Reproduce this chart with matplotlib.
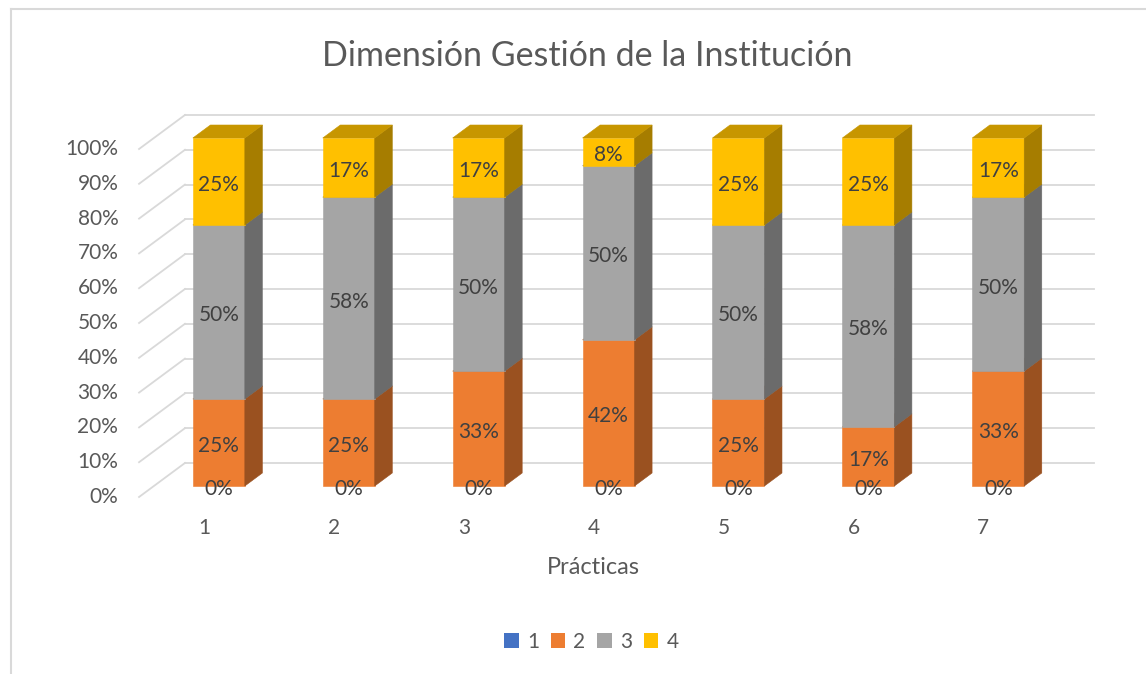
import matplotlib
matplotlib.use('Agg')
import matplotlib.pyplot as plt
from matplotlib.patches import Patch
from matplotlib.lines import Line2D
import numpy as np

plt.rcParams['font.family'] = ['Lato', 'DejaVu Sans']

# data
practicas = ['1', '2', '3', '4', '5', '6', '7']
series_names = ['1', '2', '3', '4']
s1 = [0, 0, 0, 0, 0, 0, 0]
s2 = [25, 25, 33, 42, 25, 17, 33]
s3 = [50, 58, 50, 50, 50, 58, 50]
s4 = [25, 17, 17, 8, 25, 25, 17]
yticks = [0, 10, 20, 30, 40, 50, 60, 70, 80, 90, 100]

colors = ['#4472C4', '#ED7D31', '#A5A5A5', '#FFC000']
text_col = '#595959'
label_col = '#404040'
grid_col = '#D9D9D9'


def shade(c, f):
    r, g, b = matplotlib.colors.to_rgb(c)
    return (r * f, g * f, b * f)


W, H = 1146, 674
fig = plt.figure(figsize=(W / 100, H / 100), dpi=100)
ax = fig.add_axes([0, 0, 1, 1])
ax.set_axis_off()

# pixel scale of the front (floor) plane
px_cat = 129.9
px_pct = 3.48
x0_px, y0_px = 204, 177   # category 1 / 0% in px (from left, from bottom)
ax.set_xlim(1 - x0_px / px_cat, 1 + (W - x0_px) / px_cat)
ax.set_ylim(-y0_px / px_pct, (H - y0_px) / px_pct)


def depth(d):
    # oblique depth offset in data units for d px of vertical shift
    return 1.35 * d / px_cat, d / px_pct


# back wall gridlines + diagonals on the left side
wx, wy = depth(34)
for v in yticks:
    ax.plot([0.5 + wx, 7.5 + wx], [v + wy, v + wy], color=grid_col, lw=1.3, zorder=1)
    ax.plot([0.5, 0.5 + wx], [v, v + wy], color=grid_col, lw=1.3, zorder=1)
    ax.text(0.5 - 0.16, v, f'{v}%', ha='right', va='center', fontsize=15,
            color=text_col)

fx, fy = depth(11)     # front face of bars
bdx, bdy = depth(13)   # bar depth
bw = 0.4

data = [s1, s2, s3, s4]
for i in range(len(practicas)):
    c = i + 1 + fx
    xl, xr = c - bw / 2, c + bw / 2
    bottom = 0
    for k, vals in enumerate(data):
        h = vals[i]
        lo, hi = bottom + fy, bottom + h + fy
        if h > 0:
            ax.fill([xl, xr, xr, xl], [lo, lo, hi, hi], color=colors[k],
                    lw=0.4, zorder=3)
            ax.fill([xr, xr + bdx, xr + bdx, xr], [lo, lo + bdy, hi + bdy, hi],
                    color=shade(colors[k], 0.65), lw=0.4, zorder=3)
            ax.fill([xl, xr, xr + bdx, xl + bdx], [hi, hi, hi + bdy, hi + bdy],
                    color=shade(colors[k], 0.78), lw=0.4, zorder=3)
        bottom += h
    bottom = 0
    for k, vals in enumerate(data):
        h = vals[i]
        ax.text(c, bottom + h / 2 + fy - 1.0, f'{h}%', ha='center', va='center',
                fontsize=15, color=label_col, zorder=5)
        bottom += h
    ax.text(i + 1, -9, practicas[i], ha='center', va='center', fontsize=15,
            color=text_col)

fig.text(0.512, 0.917, 'Dimensión Gestión de la Institución', ha='center',
         va='center', fontsize=24.5, color=text_col)
fig.text(0.518, 0.158, 'Prácticas', ha='center', va='center', fontsize=17,
         color=text_col)

handles = [Patch(facecolor=col, edgecolor='none') for col in colors]
fig.legend(handles, series_names, loc='center', bbox_to_anchor=(0.516, 0.048),
           ncol=4, frameon=False, fontsize=15, handlelength=0.7,
           handleheight=0.7, handletextpad=0.4, columnspacing=0.55,
           labelcolor=text_col)

# chart frame (left and top edges)
fig.add_artist(Line2D([11 / W, 11 / W], [0, 1 - 9 / H], color=grid_col, lw=1.5))
fig.add_artist(Line2D([11 / W, 1], [1 - 9 / H, 1 - 9 / H], color=grid_col, lw=1.5))

fig.savefig('out.png', dpi=100)
